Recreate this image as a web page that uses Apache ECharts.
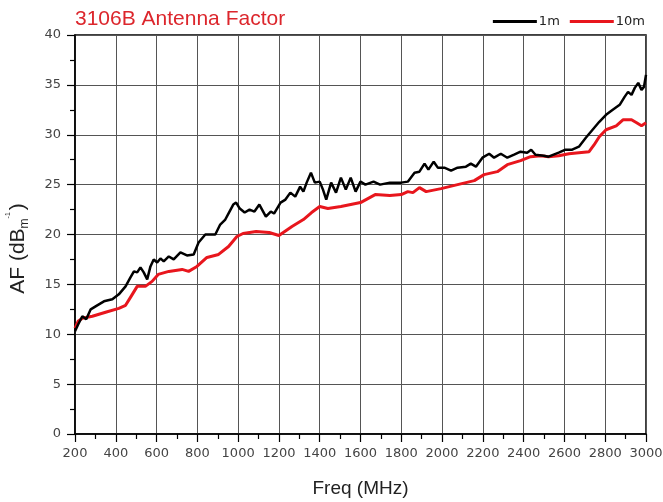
<!DOCTYPE html>
<html>
<head>
<meta charset="utf-8">
<script src="https://cdn.jsdelivr.net/npm/echarts@6/dist/echarts.min.js"></script>
<style>
  html, body { margin: 0; padding: 0; background: #fff; }
  #chart { width: 663px; height: 502px; }
</style>
</head>
<body>
<div id="chart"></div>
<script>
// Antenna factor of the 3106B horn, measured at 1 m and 10 m separation
const freq1m = [200, 216, 236, 255, 277, 309, 342, 383, 415, 448, 472, 489, 505, 521, 537, 554, 570, 586, 603, 619, 635, 660, 684, 717, 749, 782, 806, 839, 888, 912, 937, 955, 976, 990, 1008, 1032, 1056, 1080, 1104, 1136, 1160, 1176, 1208, 1232, 1256, 1280, 1304, 1320, 1336, 1357, 1376, 1400, 1416, 1432, 1456, 1480, 1504, 1528, 1552, 1576, 1600, 1624, 1664, 1696, 1744, 1800, 1832, 1865, 1889, 1914, 1933, 1959, 1979, 2011, 2044, 2076, 2117, 2141, 2166, 2198, 2231, 2255, 2288, 2320, 2353, 2385, 2417, 2437, 2458, 2499, 2522, 2572, 2605, 2638, 2671, 2705, 2738, 2771, 2804, 2837, 2871, 2895, 2912, 2929, 2945, 2962, 2978, 2990, 3000];
const af1m = [10.3, 11.0, 11.8, 11.5, 12.5, 12.9, 13.3, 13.5, 14.0, 14.8, 15.7, 16.3, 16.2, 16.7, 16.2, 15.5, 16.8, 17.5, 17.2, 17.6, 17.3, 17.8, 17.5, 18.2, 17.9, 18.0, 19.2, 20.0, 20.0, 21.0, 21.5, 22.2, 23.0, 23.2, 22.6, 22.2, 22.5, 22.3, 23.0, 21.8, 22.3, 22.1, 23.2, 23.5, 24.2, 23.8, 24.8, 24.3, 25.2, 26.2, 25.2, 25.3, 24.5, 23.5, 25.2, 24.2, 25.7, 24.5, 25.7, 24.3, 25.3, 25.0, 25.3, 25.0, 25.2, 25.2, 25.3, 26.2, 26.3, 27.1, 26.5, 27.3, 26.7, 26.7, 26.4, 26.7, 26.8, 27.1, 26.8, 27.7, 28.1, 27.7, 28.1, 27.7, 28.0, 28.3, 28.2, 28.5, 28.0, 27.9, 27.8, 28.2, 28.5, 28.5, 28.8, 29.7, 30.5, 31.3, 32.0, 32.5, 33.0, 33.8, 34.3, 34.0, 34.7, 35.2, 34.5, 34.8, 36.0];

const freq10m = [200, 215, 236, 285, 350, 415, 448, 472, 505, 545, 578, 608, 660, 725, 757, 798, 847, 904, 953, 994, 1024, 1088, 1152, 1200, 1264, 1320, 1360, 1400, 1440, 1504, 1600, 1672, 1744, 1800, 1832, 1857, 1889, 1922, 1995, 2076, 2158, 2206, 2271, 2320, 2385, 2434, 2483, 2522, 2572, 2622, 2671, 2721, 2746, 2771, 2804, 2854, 2887, 2929, 2954, 2978, 3000];
const af10m = [10.6, 11.3, 11.6, 11.8, 12.2, 12.6, 12.9, 13.7, 14.8, 14.8, 15.3, 16.0, 16.3, 16.5, 16.3, 16.8, 17.7, 18.0, 18.8, 19.8, 20.1, 20.3, 20.2, 19.9, 20.8, 21.5, 22.2, 22.8, 22.6, 22.8, 23.2, 24.0, 23.9, 24.0, 24.3, 24.2, 24.7, 24.3, 24.6, 25.0, 25.4, 26.0, 26.3, 27.0, 27.4, 27.8, 27.9, 27.8, 27.9, 28.1, 28.2, 28.3, 29.0, 29.8, 30.5, 30.9, 31.5, 31.5, 31.2, 30.9, 31.2];

const seriesNames = ['1m', '10m'];
const seriesColors = ['#000000', '#e8161d'];

const pairs = (xs, ys) => xs.map((x, i) => [x, ys[i]]);

const chart = echarts.init(document.getElementById('chart'));
const arial = 'Arial, "Liberation Sans", sans-serif';
const wide = '"DejaVu Sans", sans-serif';
const labelColor = '#444';

chart.setOption({
  animation: false,
  backgroundColor: '#fff',
  title: {
    text: '3106B Antenna Factor',
    left: 70,
    top: 4,
    textStyle: { color: '#dc262c', fontSize: 21, fontWeight: 'normal', fontFamily: arial }
  },
  legend: {
    right: 13,
    top: 10,
    itemGap: 10,
    itemWidth: 44,
    itemHeight: 3,
    icon: 'rect',
    textStyle: { fontSize: 13, color: '#222', fontFamily: wide, padding: [0, 0, 0, -3] },
    data: seriesNames
  },
  grid: {
    left: 75, right: 17, top: 35, bottom: 68,
    containLabel: false,
    outerBoundsMode: 'none',
    show: true, borderColor: '#000', borderWidth: 1.5, backgroundColor: 'transparent'
  },
  xAxis: {
    type: 'value',
    min: 200, max: 3000, interval: 200,
    name: 'Freq (MHz)',
    nameLocation: 'middle',
    nameGap: 45,
    nameTextStyle: { fontSize: 19, color: '#222', fontFamily: arial },
    axisLine: { lineStyle: { color: '#000', width: 1.5 } },
    axisTick: { show: true, length: 8, lineStyle: { color: '#000', width: 1.2 } },
    minorTick: { show: true, splitNumber: 2, length: 5, lineStyle: { color: '#000', width: 1.2 } },
    axisLabel: { fontSize: 13, color: labelColor, fontFamily: wide, margin: 13, formatter: v => String(v) },
    splitLine: { show: true, lineStyle: { color: '#555', width: 1 } }
  },
  yAxis: {
    type: 'value',
    min: 0, max: 40, interval: 5,
    name: '{a|AF (dB}{s|m}{p|-1}{a|)}',
    nameLocation: 'middle',
    nameGap: 44,
    nameRotate: 90,
    nameTextStyle: {
      fontFamily: arial,
      padding: [0, 28, 0, 0],
      rich: {
        a: { fontSize: 21, color: '#222', fontFamily: arial, lineHeight: 26, verticalAlign: 'middle' },
        s: { fontSize: 12, color: '#222', fontFamily: arial, lineHeight: 26, verticalAlign: 'bottom' },
        p: { fontSize: 7, color: '#222', fontFamily: arial, lineHeight: 26, verticalAlign: 'top', padding: [0, 2, 0, 0] }
      }
    },
    axisLine: { show: true, lineStyle: { color: '#000', width: 1.5 } },
    axisTick: { show: true, length: 8, lineStyle: { color: '#000', width: 1.2 } },
    minorTick: { show: true, splitNumber: 2, length: 5, lineStyle: { color: '#000', width: 1.2 } },
    axisLabel: { fontSize: 13, color: labelColor, fontFamily: wide, margin: 14 },
    splitLine: { show: true, lineStyle: { color: '#555', width: 1 } }
  },
  series: [
    {
      name: seriesNames[0],
      type: 'line',
      data: pairs(freq1m, af1m),
      showSymbol: false,
      lineStyle: { color: seriesColors[0], width: 2.5 },
      itemStyle: { color: seriesColors[0] },
      z: 3
    },
    {
      name: seriesNames[1],
      type: 'line',
      data: pairs(freq10m, af10m),
      showSymbol: false,
      lineStyle: { color: seriesColors[1], width: 3 },
      itemStyle: { color: seriesColors[1] },
      z: 2
    }
  ]
});
</script>
</body>
</html>
